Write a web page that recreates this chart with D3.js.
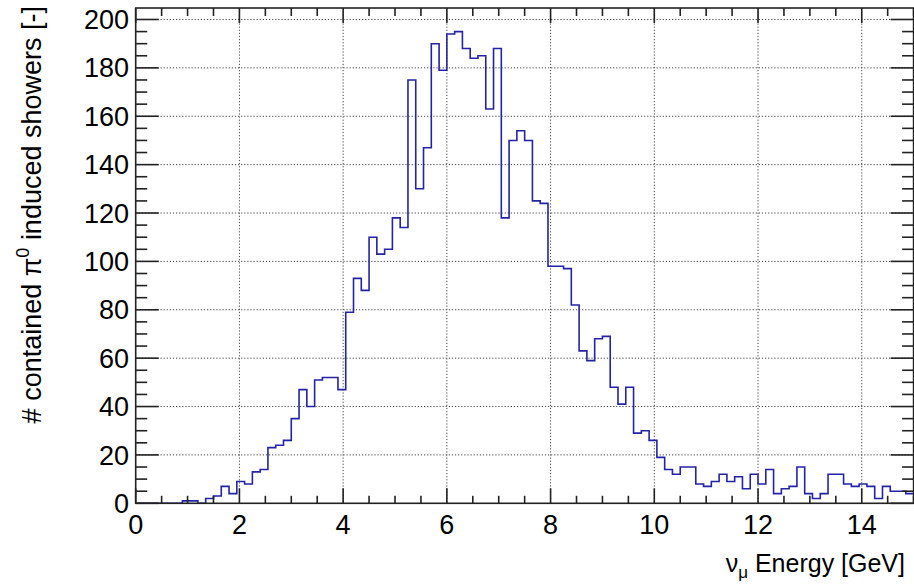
<!DOCTYPE html>
<html>
<head>
<meta charset="utf-8">
<script src="https://cdn.jsdelivr.net/npm/d3@7/dist/d3.min.js"></script>
<style>
html,body{margin:0;padding:0;background:#fff;}
svg{display:block;}
text{font-family:"Liberation Sans",Arial,Helvetica,sans-serif;fill:#000;}
</style>
</head>
<body>
<svg id="chart" width="914" height="584"></svg>
<script>
// histogram: 100 bins of 0.15 GeV from 0 to 15
const binLow = 0, binHigh = 15, nBins = 100;
const counts = [
  0,0,0,0,0,0,1,1,0,2,
  3,7,4,9,8,13,14,23,24,26,
  35,47,40,51,52,52,47,79,93,88,
  110,103,105,118,114,175,130,147,190,179,
  194,195,188,184,185,163,188,118,150,154,
  150,125,124,98,98,97,82,63,59,68,
  69,48,41,48,29,30,26,19,14,12,
  15,15,8,7,9,12,9,11,6,12,
  8,14,4,6,7,15,4,2,4,12,
  12,8,7,8,7,2,7,5,5,4
];
const xMajorTicks = [0,2,4,6,8,10,12,14];
const yMajorTicks = [0,20,40,60,80,100,120,140,160,180,200];
const xTitleMain = "ν", xTitleSub = "μ", xTitleRest = " Energy [GeV]";
const yTitleA = "# contained π", yTitleSup = "0", yTitleB = " induced showers [-]";

const L = 135.7, R = 913.6, T = 8, B = 503.3;
const yMax = 204.75;
const svg = d3.select("#chart");
const x = d3.scaleLinear().domain([binLow, binHigh]).range([L, R]);
const y = d3.scaleLinear().domain([0, yMax]).range([B, T]);

const xMinor = d3.range(0, 15.001, 0.5).filter(v => !xMajorTicks.includes(v));
const yMinor = d3.range(0, yMax, 5).filter(v => v % 20 !== 0);

// grid
const grid = svg.append("g").attr("stroke", "#444").attr("stroke-width", 1)
  .attr("stroke-dasharray", "1.2,1.9");
xMajorTicks.filter(v => v > 0).forEach(v => {
  grid.append("line").attr("x1", x(v)).attr("x2", x(v)).attr("y1", T).attr("y2", B);
});
yMajorTicks.filter(v => v > 0).forEach(v => {
  grid.append("line").attr("x1", L).attr("x2", R).attr("y1", y(v)).attr("y2", y(v));
});

// histogram step path
const bw = (binHigh - binLow) / nBins;
let pts = [[x(binLow), y(0)]];
counts.forEach((c, i) => {
  pts.push([x(binLow + i * bw), y(c)]);
  pts.push([x(binLow + (i + 1) * bw), y(c)]);
});
svg.append("path")
  .attr("d", d3.line()(pts))
  .attr("fill", "none").attr("stroke", "#2323a6").attr("stroke-width", 1.6);

// axes (ROOT style)
const axCol = "#222";
function ticks(g, vals, len, orient) {
  vals.forEach(v => {
    if (orient === "b") g.append("line").attr("x1", x(v)).attr("x2", x(v)).attr("y1", B).attr("y2", B - len);
    if (orient === "t") g.append("line").attr("x1", x(v)).attr("x2", x(v)).attr("y1", T).attr("y2", T + len);
    if (orient === "l") g.append("line").attr("x1", L).attr("x2", L + len).attr("y1", y(v)).attr("y2", y(v));
    if (orient === "r") g.append("line").attr("x1", R).attr("x2", R - len).attr("y1", y(v)).attr("y2", y(v));
  });
}
const ax = svg.append("g").attr("stroke", axCol).attr("stroke-width", 1.6).attr("fill", "none");
ticks(ax, xMajorTicks, 15, "b");
ticks(ax, xMinor, 7.5, "b");
ticks(ax, xMajorTicks, 15, "t");
ticks(ax, xMinor, 8, "t");
ticks(ax, yMajorTicks, 23, "l");
ticks(ax, yMinor, 11.5, "l");
ticks(ax, yMajorTicks, 23, "r");
ticks(ax, yMinor, 11.5, "r");
ax.append("rect").attr("x", L).attr("y", T).attr("width", R - L).attr("height", B - T);

// tick labels
svg.append("g").selectAll("text").data(xMajorTicks).join("text")
  .attr("x", d => x(d)).attr("y", 534).attr("text-anchor", "middle")
  .attr("font-size", 27).text(d => d);
svg.append("g").selectAll("text").data(yMajorTicks).join("text")
  .attr("x", 129).attr("y", d => y(d) + 9.6).attr("text-anchor", "end")
  .attr("font-size", 27).text(d => d);

// axis titles
const xt = svg.append("text").attr("x", 905).attr("y", 572).attr("text-anchor", "end").attr("font-size", 25);
xt.append("tspan").text(xTitleMain);
xt.append("tspan").attr("font-size", 17).attr("dy", 6).text(xTitleSub);
xt.append("tspan").attr("dy", -6).text(xTitleRest);

const yt = svg.append("text").attr("transform", "translate(41,6) rotate(-90)")
  .attr("text-anchor", "end").attr("font-size", 27);
yt.append("tspan").text(yTitleA);
yt.append("tspan").attr("font-size", 18).attr("dy", -12).text(yTitleSup);
yt.append("tspan").attr("dy", 12).text(yTitleB);
</script>
</body>
</html>
